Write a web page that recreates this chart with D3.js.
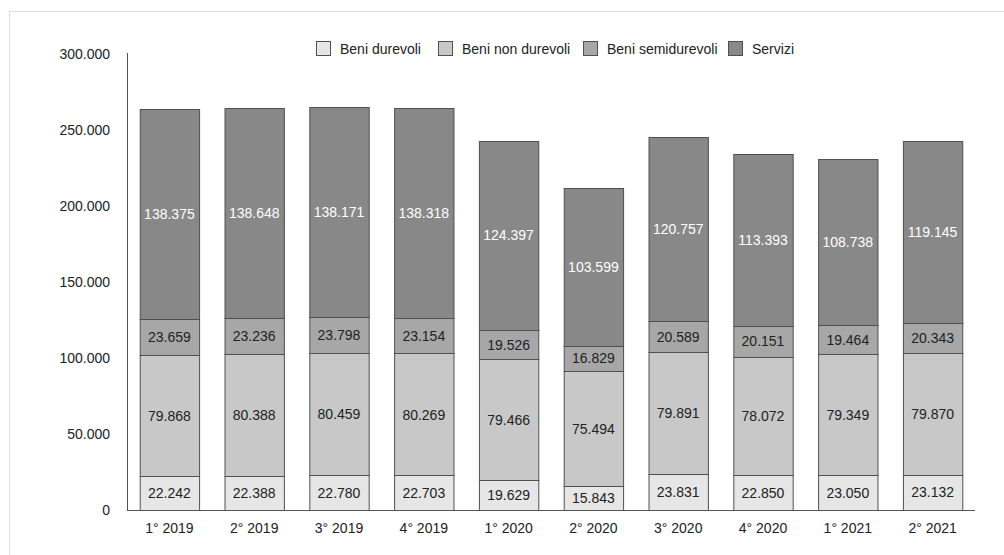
<!DOCTYPE html>
<html><head><meta charset="utf-8">
<script src="https://cdn.jsdelivr.net/npm/d3@7"></script>
<style>
html,body{margin:0;padding:0;background:#fff;}
svg{display:block;font-family:"Liberation Sans",Arial,sans-serif;}
</style></head>
<body>
<svg id="chart" width="1004" height="555"></svg>
<script>
const categories = ["1° 2019","2° 2019","3° 2019","4° 2019","1° 2020","2° 2020","3° 2020","4° 2020","1° 2021","2° 2021"];
const seriesNames = ["Beni durevoli","Beni non durevoli","Beni semidurevoli","Servizi"];
const beniDurevoli = [22242,22388,22780,22703,19629,15843,23831,22850,23050,23132];
const beniNonDurevoli = [79868,80388,80459,80269,79466,75494,79891,78072,79349,79870];
const beniSemidurevoli = [23659,23236,23798,23154,19526,16829,20589,20151,19464,20343];
const servizi = [138375,138648,138171,138318,124397,103599,120757,113393,108738,119145];
const yTicks = [0,50000,100000,150000,200000,250000,300000];
const colors = ["#e6e6e6","#c8c8c8","#a7a7a7","#888888"];
const labelColors = ["#222","#222","#222","#fff"];

const seriesValues = [beniDurevoli, beniNonDurevoli, beniSemidurevoli, servizi];
const table = categories.map((c,i)=>{
  const o = {cat:c};
  seriesNames.forEach((s,j)=>o[s]=seriesValues[j][i]);
  return o;
});
const stacked = d3.stack().keys(seriesNames)(table);

const svg = d3.select("#chart");
const fmt = v => d3.format(",")(v).replace(/,/g,".");

// frame
svg.append("rect").attr("x",9.5).attr("y",11.5).attr("width",1010).attr("height",560)
  .attr("fill","none").attr("stroke","#dcdcdc").attr("stroke-width",1);

const x = d3.scaleBand().domain(categories).range([127,975]).paddingInner(0.3).paddingOuter(0.15);
const y = d3.scaleLinear().domain([0,300000]).range([510,54]);

// bars
const g = svg.append("g");
stacked.forEach((layer,j)=>{
  g.selectAll(null).data(layer).enter().append("rect")
    .attr("x",d=>x(d.data.cat)+0.5)
    .attr("y",d=>Math.round(y(d[1]))+0.5)
    .attr("width",x.bandwidth())
    .attr("height",d=>Math.round(y(d[0]))-Math.round(y(d[1])))
    .attr("fill",colors[j]).attr("stroke","#505050").attr("stroke-width",1);
});
stacked.forEach((layer,j)=>{
  g.selectAll(null).data(layer).enter().append("text")
    .attr("x",d=>x(d.data.cat)+x.bandwidth()/2)
    .attr("y",d=>(y(d[0])+y(d[1]))/2)
    .attr("dy","0.36em")
    .attr("text-anchor","middle")
    .attr("font-size",14)
    .attr("fill",labelColors[j])
    .text(d=>fmt(d[1]-d[0]));
});

// y axis
const ya = svg.append("g").attr("transform","translate(127,0)")
  .call(d3.axisLeft(y).tickValues(yTicks).tickSize(0).tickPadding(17).tickFormat(fmt));
ya.select(".domain").attr("stroke","#555").attr("d","M0.5,53V510.5");
ya.selectAll("text").attr("font-size",14).attr("fill","#222").attr("font-family","Liberation Sans, Arial, sans-serif");

// x axis
const xa = svg.append("g").attr("transform","translate(0,510)")
  .call(d3.axisBottom(x).tickSize(0).tickPadding(13));
xa.select(".domain").attr("stroke","#555").attr("d","M127,0.5H975");
xa.selectAll("text").attr("font-size",14).attr("fill","#222").attr("font-family","Liberation Sans, Arial, sans-serif");

// legend
const legendX = [316,438,583,728];
const lg = svg.append("g");
seriesNames.forEach((s,j)=>{
  lg.append("rect").attr("x",legendX[j]+0.5).attr("y",41.5).attr("width",14).attr("height",14)
    .attr("fill",colors[j]).attr("stroke","#505050");
  lg.append("text").attr("x",legendX[j]+24).attr("y",48.5).attr("dy","0.36em")
    .attr("font-size",14).attr("fill","#222").text(s);
});
</script>
</body></html>
